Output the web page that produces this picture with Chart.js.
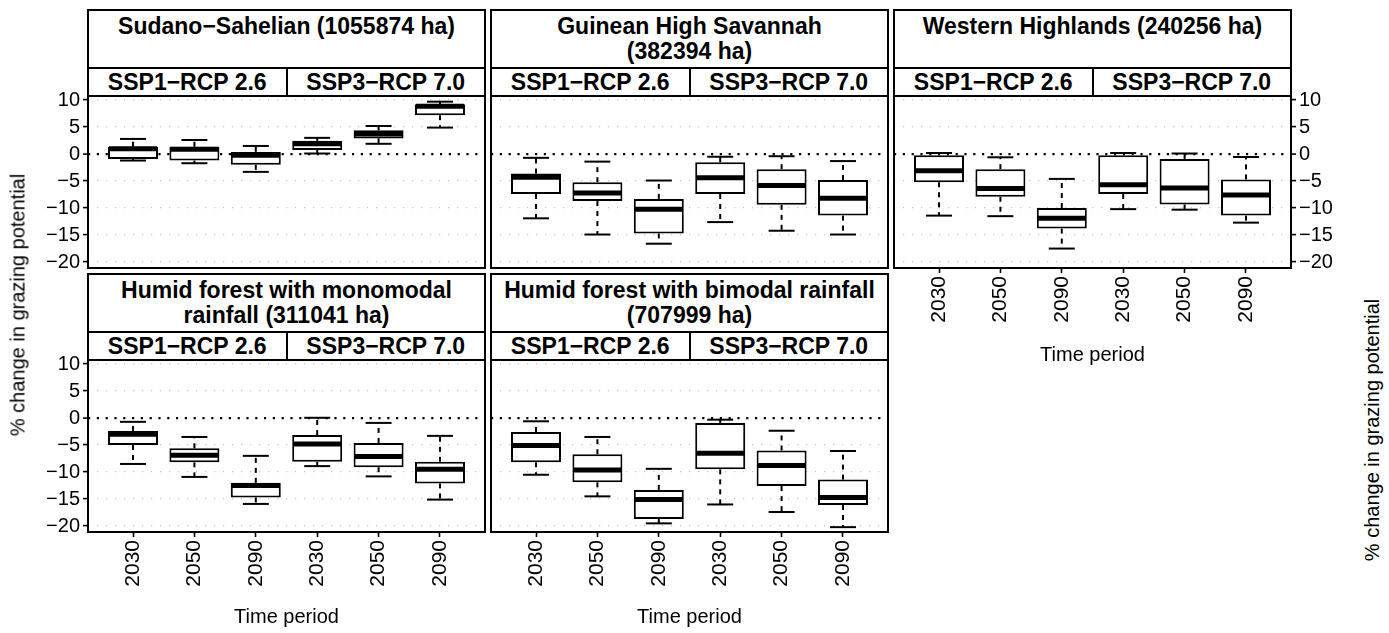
<!DOCTYPE html>
<html lang="en">
  <head>
    <meta charset="UTF-8" />
    <title>Change in grazing potential</title>
    <style>
      body { margin: 0; background: #fff; font-family: "Liberation Sans", Arial, sans-serif; color: #000; }
      #page { position: relative; width: 1389px; height: 633px; overflow: hidden; background: #fff; }
      .strip { position: absolute; box-sizing: border-box; border: 2px solid #000; background: #fff; font-weight: bold; font-size: 23px; text-align: center; white-space: nowrap; }
      .head { line-height: 25px; padding-top: 3px; }
      .sub { display: flex; line-height: 26px; }
      .sub span { flex: 1 1 0; }
      .sub span + span { border-left: 2px solid #000; }
      canvas { position: absolute; }
      .ytitle { position: absolute; font-size: 20px; color: #000; white-space: nowrap; transform: translate(-50%, -50%) rotate(-90deg); }
    </style>
  </head>
  <body>
    <div id="page"></div>

    <script src="https://cdn.jsdelivr.net/npm/chart.js"></script>
    <script>
      var periods = ["2030", "2050", "2090", "2030", "2050", "2090"];
      var scenarios = ["SSP1−RCP 2.6", "SSP3−RCP 7.0"];
      var yTicks = [10, 5, 0, -5, -10, -15, -20];

      // one row per time period: [lower whisker, Q1, median, Q3, upper whisker]
      var sudanoSahelian = [
        [-1.2, -0.9, 1.0, 1.35, 2.8],
        [-1.7, -1.2, 0.9, 1.35, 2.6],
        [-3.3, -2.0, -0.2, 0.4, 1.5],
        [0.1, 0.75, 1.9, 2.45, 3.0],
        [1.9, 2.9, 3.7, 4.4, 5.2],
        [4.9, 7.2, 8.85, 9.2, 9.7]
      ];
      var guineanHighSavannah = [
        [-11.9, -7.4, -4.3, -3.6, -0.7],
        [-14.9, -8.7, -7.2, -5.2, -1.4],
        [-16.6, -14.7, -10.2, -8.3, -4.9],
        [-12.6, -7.4, -4.4, -1.5, -0.5],
        [-14.2, -9.4, -5.8, -2.8, -0.4],
        [-14.9, -11.4, -8.2, -4.8, -1.3]
      ];
      var westernHighlands = [
        [-11.4, -5.2, -3.1, 0.0, 0.2],
        [-11.5, -7.9, -6.4, -2.8, -0.6],
        [-17.5, -13.8, -11.9, -10.0, -4.6],
        [-10.2, -7.4, -5.7, 0.0, 0.2],
        [-10.3, -9.35, -6.3, -0.9, 0.1],
        [-12.7, -11.4, -7.6, -4.7, -0.55]
      ];
      var humidMonomodal = [
        [-8.5, -5.0, -3.0, -2.4, -0.7],
        [-10.9, -8.2, -6.9, -5.6, -3.5],
        [-15.9, -14.7, -12.5, -12.0, -7.0],
        [-8.9, -8.1, -4.8, -3.15, 0.05],
        [-10.8, -9.1, -7.1, -4.6, -0.9],
        [-15.1, -12.1, -9.5, -8.1, -3.3]
      ];
      var humidBimodal = [
        [-10.5, -8.2, -5.1, -2.6, -0.6],
        [-14.5, -11.9, -9.6, -6.7, -3.5],
        [-19.5, -18.7, -15.1, -13.3, -9.4],
        [-16.0, -9.5, -6.5, -0.9, -0.3],
        [-17.4, -12.6, -8.8, -6.0, -2.35],
        [-20.2, -16.1, -14.7, -11.4, -6.1]
      ];

      var panels = [
        { title: ["Sudano−Sahelian (1055874 ha)"], stats: sudanoSahelian, col: 0, row: 0, yAxis: "left", xAxis: false },
        { title: ["Guinean High Savannah", "(382394 ha)"], stats: guineanHighSavannah, col: 1, row: 0, yAxis: null, xAxis: false },
        { title: ["Western Highlands (240256 ha)"], stats: westernHighlands, col: 2, row: 0, yAxis: "right", xAxis: true },
        { title: ["Humid forest with monomodal", "rainfall (311041 ha)"], stats: humidMonomodal, col: 0, row: 1, yAxis: "left", xAxis: true },
        { title: ["Humid forest with bimodal rainfall", "(707999 ha)"], stats: humidBimodal, col: 1, row: 1, yAxis: null, xAxis: true }
      ];

      var colLeft = [88, 491, 894];
      var rowTop = [10, 274];
      var xTitleY = [355, 617];
      var plotW = 397, plotH = 172, stripH = 58, subH = 28;

      Chart.defaults.font.family = '"Liberation Sans", Arial, sans-serif';
      Chart.defaults.font.size = 20;
      Chart.defaults.color = "#000";
      Chart.defaults.animation = false;

      function seg(ctx, x1, y1, x2, y2) {
        ctx.beginPath();
        ctx.moveTo(x1, y1);
        ctx.lineTo(x2, y2);
        ctx.stroke();
      }

      var boxplotPlugin = {
        id: "boxplot",
        afterDatasetsDraw: function (chart) {
          var ctx = chart.ctx;
          var y = chart.scales.y;
          var stats = chart.data.datasets[0].stats;
          chart.getDatasetMeta(0).data.forEach(function (bar, i) {
            var s = stats[i];
            var half = bar.width / 2;
            var cap = bar.width * 0.26;
            ctx.save();
            ctx.strokeStyle = "#000";
            ctx.lineWidth = 2;
            ctx.setLineDash([5, 5]);
            seg(ctx, bar.x, y.getPixelForValue(s[3]), bar.x, y.getPixelForValue(s[4]));
            seg(ctx, bar.x, y.getPixelForValue(s[1]), bar.x, y.getPixelForValue(s[0]));
            ctx.setLineDash([]);
            seg(ctx, bar.x - cap, y.getPixelForValue(s[4]), bar.x + cap, y.getPixelForValue(s[4]));
            seg(ctx, bar.x - cap, y.getPixelForValue(s[0]), bar.x + cap, y.getPixelForValue(s[0]));
            ctx.lineWidth = 5;
            seg(ctx, bar.x - half + 1, y.getPixelForValue(s[2]), bar.x + half - 1, y.getPixelForValue(s[2]));
            ctx.restore();
          });
        },
        afterDraw: function (chart) {
          var a = chart.chartArea;
          var ctx = chart.ctx;
          ctx.save();
          ctx.strokeStyle = "#000";
          ctx.lineWidth = 2;
          ctx.strokeRect(a.left, a.top, a.right - a.left, a.bottom - a.top);
          ctx.restore();
        }
      };

      var page = document.getElementById("page");

      panels.forEach(function (p) {
        var plotLeft = colLeft[p.col];
        var plotTop = rowTop[p.row] + stripH + subH;

        var head = document.createElement("div");
        head.className = "strip head";
        head.style.left = plotLeft - 1 + "px";
        head.style.top = rowTop[p.row] - 1 + "px";
        head.style.width = plotW + 2 + "px";
        head.style.height = stripH + 2 + "px";
        head.innerHTML = p.title.join("<br>");
        page.appendChild(head);

        var sub = document.createElement("div");
        sub.className = "strip sub";
        sub.style.left = plotLeft - 1 + "px";
        sub.style.top = rowTop[p.row] + stripH - 1 + "px";
        sub.style.width = plotW + 2 + "px";
        sub.style.height = subH + 2 + "px";
        scenarios.forEach(function (s) {
          var span = document.createElement("span");
          span.textContent = s;
          sub.appendChild(span);
        });
        page.appendChild(sub);

        var pad = 20;
        var LW = p.yAxis === "left" ? 44 : 0;
        var RW = p.yAxis === "right" ? 44 : 0;
        var BH = p.xAxis ? xTitleY[p.row] + 12 - (plotTop + plotH) : 0;

        var canvas = document.createElement("canvas");
        canvas.width = pad + LW + plotW + RW + pad;
        canvas.height = pad + plotH + (p.xAxis ? BH : pad);
        canvas.style.left = plotLeft - LW - pad + "px";
        canvas.style.top = plotTop - pad + "px";
        page.appendChild(canvas);

        new Chart(canvas, {
          type: "bar",
          data: {
            datasets: [
              {
                data: p.stats.map(function (s, i) { return { x: i + 1, y: [s[1], s[3]] }; }),
                stats: p.stats,
                backgroundColor: "#fff",
                borderColor: "#000",
                borderWidth: 2,
                borderSkipped: false,
                barPercentage: 0.814,
                categoryPercentage: 1
              }
            ]
          },
          options: {
            responsive: false,
            events: [],
            layout: { padding: { left: pad, right: pad, top: pad, bottom: p.xAxis ? 0 : pad } },
            plugins: { legend: { display: false }, tooltip: { enabled: false } },
            scales: {
              x: {
                type: "linear",
                min: 0.267,
                max: 6.733,
                offset: false,
                afterBuildTicks: function (s) {
                  s.ticks = periods.map(function (d, i) { return { value: i + 1 }; });
                },
                afterFit: function (s) { s.height = BH; },
                ticks: {
                  display: p.xAxis,
                  autoSkip: false,
                  minRotation: 90,
                  maxRotation: 90,
                  padding: 3,
                  font: { size: 21 },
                  callback: function (v, i) { return periods[i]; }
                },
                grid: { offset: false, drawOnChartArea: false, drawTicks: p.xAxis, tickLength: 5, tickColor: "#000", tickWidth: 1.6 },
                border: { display: false },
                title: { display: p.xAxis, text: "Time period", padding: 0 }
              },
              y: {
                position: p.yAxis === "right" ? "right" : "left",
                min: -21.1,
                max: 10.75,
                afterBuildTicks: function (s) {
                  s.ticks = yTicks.map(function (v) { return { value: v }; });
                },
                afterFit: function (s) { s.width = LW + RW; },
                ticks: {
                  display: !!p.yAxis,
                  padding: 3,
                  callback: function (v) { return v < 0 ? "−" + Math.abs(v) : String(v); }
                },
                grid: {
                  color: function (c) { return c.tick && c.tick.value === 0 ? "#000" : "#c4c4c4"; },
                  lineWidth: function (c) { return c.tick && c.tick.value === 0 ? 2.2 : 1.2; },
                  drawTicks: !!p.yAxis,
                  tickLength: 5,
                  tickColor: "#000",
                  tickWidth: 1.6
                },
                border: {
                  display: false,
                  dash: function (c) { return c.tick && c.tick.value === 0 ? [2.2, 6.6] : [1.2, 7.8]; }
                }
              }
            }
          },
          plugins: [boxplotPlugin]
        });
      });

      [[18, 305], [1372, 430]].forEach(function (pos) {
        var t = document.createElement("div");
        t.className = "ytitle";
        t.style.left = pos[0] + "px";
        t.style.top = pos[1] + "px";
        t.textContent = "% change in grazing potential";
        page.appendChild(t);
      });
    </script>
  </body>
</html>
